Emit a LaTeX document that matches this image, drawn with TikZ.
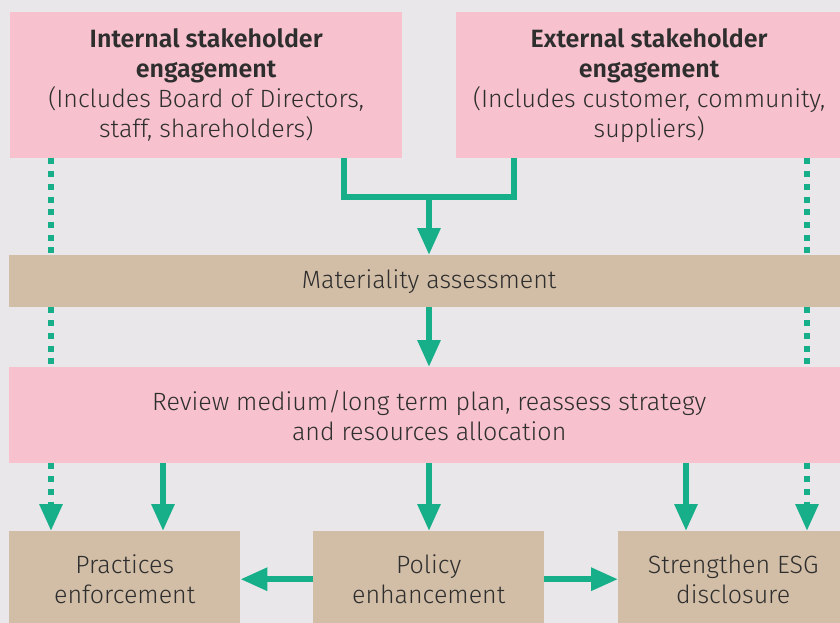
\documentclass[tikz,border=0pt]{standalone}
\usepackage{fontspec}
\setmainfont{Fira Sans}[UprightFont=* Light,BoldFont=* SemiBold]
\usetikzlibrary{arrows.meta}
\usetikzlibrary{calc}
\definecolor{paper}{HTML}{E9E7E9}
\definecolor{boxpink}{HTML}{F7C2CE}
\definecolor{boxtan}{HTML}{D2BEA6}
\definecolor{flowgreen}{HTML}{17AF8A}
\definecolor{ink}{HTML}{2E2E2E}
\tikzstyle{pinkbox}=[fill=boxpink,text=ink,inner sep=0,align=center,anchor=north west]
\tikzstyle{tanbox}=[fill=boxtan,text=ink,inner sep=0,align=center,anchor=north west]
\tikzstyle{flowline}=[flowgreen,line width=6]
\tikzstyle{flowarr}=[flowline,-{Triangle[length=27,width=22]}]
\tikzstyle{dotline}=[flowline,dash pattern=on 6 off 6.7]
\tikzstyle{dotarr}=[dotline,-{Triangle[length=27,width=22]}]

\begin{document}
\begin{tikzpicture}[x=1pt,y=-1pt,font=\fontsize{25}{30}\selectfont]
	% canvas (pixel units, y downwards)
	\useasboundingbox (0,0) rectangle (840,623);
	\clip (0,0) rectangle (840,623);
	\fill[paper] (0,0) rectangle (840,623);
	
	% columns of the connectors
	\coordinate (xdl) at (51,0);
	\coordinate (xpr) at (163,0);
	\coordinate (join) at (429,197);
	\coordinate (xst) at (686,0);
	\coordinate (xdr) at (807,0);
	
	% BOXES
	\node[pinkbox,minimum width=392,minimum height=146] (int) at (10,12)
	{\textbf{Internal stakeholder}\\\textbf{engagement}\\(Includes Board of Directors,\\staff, shareholders)};
	\node[pinkbox,minimum width=386,minimum height=146] (ext) at (456,12)
	{\textbf{External stakeholder}\\\textbf{engagement}\\(Includes customer, community,\\suppliers)};
	\node[tanbox,minimum width=840,minimum height=52] (mat) at (9,255)
	{Materiality assessment};
	\node[pinkbox,minimum width=840,minimum height=96] (rev) at (9,367)
	{Review medium/long term plan, reassess strategy\\and resources allocation};
	\node[tanbox,minimum width=231,minimum height=96] (prac) at (9,531)
	{Practices\\enforcement};
	\node[tanbox,minimum width=231,minimum height=96] (pol) at (313,531)
	{Policy\\enhancement};
	\node[tanbox,minimum width=230,minimum height=96] (str) at (618,531)
	{Strengthen ESG\\disclosure};
	
	% ENGAGEMENT INTO ASSESSMENT
	\draw[flowline] ($(int.south west)+(334,0)$) |- (join) -| ($(ext.south west)+(58,0)$);
	\draw[flowarr] (join) -- (mat.north -| join);
	\draw[flowarr] (mat.south -| join) -- (rev.north -| join);
	
	% OUTCOMES
	\draw[flowarr] (rev.south -| xpr) -- (prac.north -| xpr);
	\draw[flowarr] (rev.south -| join) -- (pol.north -| join);
	\draw[flowarr] (rev.south -| xst) -- (str.north -| xst);
	\draw[flowarr] (pol.west) -- (prac.east);
	\draw[flowarr] (pol.east) -- (str.west);
	
	% DIRECT LINKS (dotted)
	\draw[dotline] (int.south -| xdl) -- (mat.north -| xdl);
	\draw[dotline] (mat.south -| xdl) -- (rev.north -| xdl);
	\draw[dotarr] (rev.south -| xdl) -- (prac.north -| xdl);
	\draw[dotline] (ext.south -| xdr) -- (mat.north -| xdr);
	\draw[dotline] (mat.south -| xdr) -- (rev.north -| xdr);
	\draw[dotarr] (rev.south -| xdr) -- (str.north -| xdr);
\end{tikzpicture}
\end{document}
